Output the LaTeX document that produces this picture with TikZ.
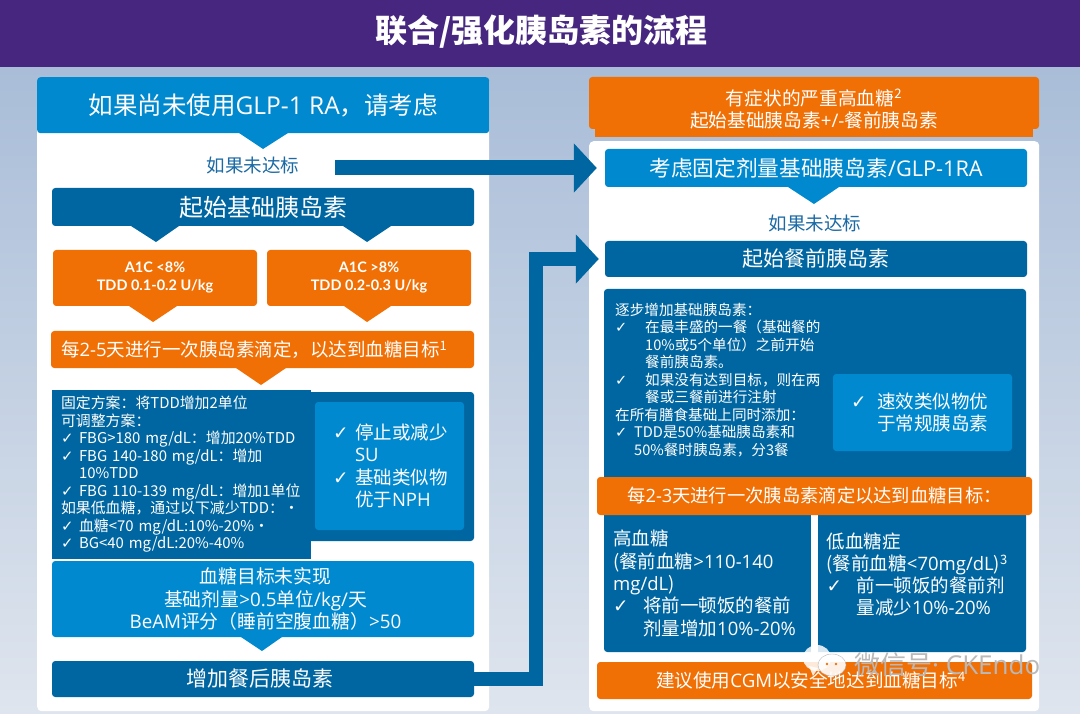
\documentclass[tikz,border=0pt]{standalone}
\usepackage{fontspec}
\setmainfont{Noto Sans CJK SC}
\newfontfamily\checkfont{DejaVu Sans}
\newfontfamily\labfont{Lato}
\newfontfamily\latinfont{Open Sans}
\usetikzlibrary{arrows.meta}
\definecolor{my_purple}{HTML}{46267F}
\definecolor{my_dark}{HTML}{0066A1}
\definecolor{my_light}{HTML}{0089CF}
\definecolor{my_orange}{HTML}{F07006}
\definecolor{my_text}{HTML}{1B6AA5}
\definecolor{my_sky}{HTML}{A9BDD8}
\definecolor{my_mist}{HTML}{DFE5EE}
\newcommand{\chk}[1]{\makebox[#1][l]{\checkfont ✓}}
\newcommand{\fsz}[2]{\fontsize{#1}{#2}\selectfont}
\newcommand{\oa}[1]{{\latinfont #1}}
\newcommand{\lowered}[2]{\raisebox{-#1}{#2}}

\begin{document}
\begin{tikzpicture}[x=1pt,y=-1pt,
  panel/.style={rectangle,fill=white,rounded corners=.8ex,inner sep=0pt},
  darkbox/.style={rectangle,fill=my_dark,rounded corners=.6ex,text=white,inner sep=0pt,align=center},
  lightbox/.style={rectangle,fill=my_light,rounded corners=.6ex,text=white,inner sep=0pt,align=center},
  orangebox/.style={rectangle,fill=my_orange,rounded corners=.6ex,text=white,inner sep=0pt,align=center},
  listtext/.style={text=white,inner sep=0pt,align=left,anchor=west},
  misstext/.style={text=my_text,inner sep=0pt,font=\fsz{18.5}{22}},
  bigarrow/.style={draw=my_dark,line width=15pt,-{Triangle[length=23pt,width=48pt]}}
  ]
\useasboundingbox (0,0) rectangle (1080,714);

% background and header
\shade[top color=my_sky,bottom color=my_mist] (0,66) rectangle (1080,714);
\node[rectangle,fill=my_purple,minimum width=1080pt,minimum height=67pt,inner sep=0pt,anchor=north west] (header) at (0,0) {};
\node[text=white,inner sep=0pt,font=\fsz{32}{36}\bfseries] (title) at (541.5,32) {联合/强化胰岛素的流程};

% left column
\node[panel,minimum width=452pt,minimum height=634pt,anchor=north west] (left-panel) at (37,77) {};
\node[lightbox,minimum width=452pt,minimum height=56pt,anchor=north west,font=\fsz{24.5}{28}] (left-head) at (37,77) {\lowered{1.5pt}{如果尚未使用\oa{GLP-1 RA}，请考虑}};
\fill[my_light] (239,133) -- (288,133) -- (263,149) -- cycle;
\node[misstext] (left-miss) at (253,165) {如果未达标};

\node[darkbox,minimum width=422pt,minimum height=38pt,font=\fsz{24}{28}] (basal) at (263,207) {起始基础胰岛素};
\fill[my_dark] (131,226) -- (179,226) -- (156,242) -- cycle;
\fill[my_dark] (343,226) -- (391,226) -- (367,242) -- cycle;

\node[orangebox,minimum width=204pt,minimum height=56pt,font=\labfont\bfseries\fsz{14.5}{18}] (a1c-low) at (155,278) {\lowered{3pt}{A1C <8\%}\\\lowered{3pt}{TDD 0.1-0.2 U/kg}};
\node[orangebox,minimum width=204pt,minimum height=56pt,font=\labfont\bfseries\fsz{14.5}{18}] (a1c-high) at (369,278) {\lowered{3pt}{A1C >8\%}\\\lowered{3pt}{TDD 0.2-0.3 U/kg}};
\fill[my_orange] (129,306) -- (177,306) -- (153,322) -- cycle;
\fill[my_orange] (344,306) -- (391,306) -- (367,322) -- cycle;

\node[orangebox,minimum width=423pt,minimum height=37pt,inner xsep=10pt,text width=403pt,align=left,font=\fsz{18.5}{22}] (titrate-left) at (262.5,349.5) {每\oa{2-5}天进行一次胰岛素滴定，以达到血糖目标\textsuperscript{1}};
\fill[my_orange] (236,368) -- (286,368) -- (261,385) -- cycle;

\node[darkbox,minimum width=422pt,minimum height=149pt] (fix-back) at (263,466.5) {};
\node[rectangle,fill=my_dark,minimum width=259pt,minimum height=169pt,text=white,inner sep=0pt,align=left,text width=241pt,font=\fsz{14.9}{17.5}] (fix-plan) at (181.5,474.5) {固定方案：将TDD增加2单位\\
可调整方案：\\
\chk{18pt}FBG>180 mg/dL：增加20\%TDD\\
\chk{18pt}FBG 140-180 mg/dL：增加\\
\hspace*{18pt}10\%TDD\\
\chk{18pt}FBG 110-139 mg/dL：增加1单位\\
如果低血糖，通过以下减少TDD：·\\
\chk{18pt}血糖<70 mg/dL:10\%-20\%·\\
\chk{18pt}BG<40 mg/dL:20\%-40\%};
\node[lightbox,minimum width=149pt,minimum height=128pt,inner xsep=18pt,text width=113pt,align=left,font=\fsz{18.5}{22.5}] (su-box) at (389.5,466) {\chk{22pt}停止或减少\\
\hspace*{22pt}\oa{SU}\\
\chk{22pt}基础类似物\\
\hspace*{22pt}优于\oa{NPH}};

\node[lightbox,minimum width=422pt,minimum height=76pt] (not-met) at (263,599) {};
\node[text=white,inner sep=0pt,align=center,font=\fsz{18.8}{22.5}] (not-met-text) at (265.5,599) {血糖目标未实现\\基础剂量\oa{>0.5}单位\oa{/kg/}天\\\oa{BeAM}评分（睡前空腹血糖）\oa{>50}};
\fill[my_light] (241,637) -- (282,637) -- (262,651) -- cycle;
\node[darkbox,minimum width=422pt,minimum height=36pt] (post-meal) at (263,679) {};
\node[text=white,inner sep=0pt,font=\fsz{21}{25}] (post-meal-text) at (260,678) {增加餐后胰岛素};

% right column
\fill[my_orange] (595,120) rectangle (1033,137);
\node[orangebox,minimum width=450pt,minimum height=52pt] (severe) at (814,103) {};
\node[text=white,inner sep=0pt,align=center,font=\fsz{18.7}{22}] (severe-text) at (814,109) {有症状的严重高血糖\textsuperscript{2}\\起始基础胰岛素\oa{+/-}餐前胰岛素};
\node[panel,minimum width=450pt,minimum height=570pt,anchor=north west] (right-panel) at (589,141) {};

\node[lightbox,minimum width=422pt,minimum height=38pt,font=\fsz{21.7}{26}] (fixed-dose) at (816,168) {考虑固定剂量基础胰岛素\oa{/GLP-1RA}};
\fill[my_light] (788,187) -- (839,187) -- (814,204) -- cycle;
\node[misstext] (right-miss) at (815,223) {如果未达标};
\node[darkbox,minimum width=422pt,minimum height=36pt,font=\fsz{21}{25}] (pre-meal) at (816,259) {\lowered{1.5pt}{起始餐前胰岛素}};

\node[darkbox,minimum width=422pt,minimum height=363pt] (right-back) at (815,470.5) {};
\node[listtext,font=\fsz{14.6}{17.5}] (step-up) at (615,380) {逐步增加基础胰岛素：\\
\chk{30pt}在最丰盛的一餐（基础餐的\\
\hspace*{30pt}10\%或5个单位）之前开始\\
\hspace*{30pt}餐前胰岛素。\\
\chk{30pt}如果没有达到目标，则在两\\
\hspace*{30pt}餐或三餐前进行注射\\
在所有膳食基础上同时添加：\\
\chk{19pt}TDD是50\%基础胰岛素和\\
\hspace*{19pt}50\%餐时胰岛素，分3餐};
\node[lightbox,minimum width=179pt,minimum height=77pt,inner xsep=18pt,text width=143pt,align=left,font=\fsz{18.5}{22.5}] (rapid) at (922.5,412.5) {\chk{26pt}速效类似物优\\
\hspace*{26pt}于常规胰岛素};

\fill[white] (811,510) rectangle (818,665);
\node[orangebox,minimum width=435pt,minimum height=38pt,font=\fsz{18.3}{23}] (titrate-right) at (814.5,496) {每\oa{2-3}天进行一次胰岛素滴定以达到血糖目标：};
\node[listtext,font=\fsz{18.5}{22.3}] (hyper) at (613,583.5) {高血糖\\
(餐前血糖\oa{>110-140}\\
\oa{mg/dL})\\
\chk{30pt}将前一顿饭的餐前\\
\hspace*{30pt}剂量增加\oa{10\%-20\%}};
\node[listtext,font=\fsz{18.5}{22.3}] (hypo) at (826.5,574.5) {低血糖症\\
(餐前血糖\oa{<70mg/dL})\textsuperscript{3}\\
\chk{30pt}前一顿饭的餐前剂\\
\hspace*{30pt}量减少\oa{10\%-20\%}};
\node[orangebox,minimum width=435pt,minimum height=37pt,font=\fsz{18.6}{23}] (cgm) at (814.5,680.5) {建议使用\oa{CGM}以安全地达到血糖目标\textsuperscript{4}\hspace*{7pt}};

% arrows between the columns
\coordinate (miss-out) at (335,168);
\coordinate (bend) at (535.5,259);
\draw[bigarrow,shorten >=8pt] (miss-out) -- (fixed-dose.west);
\draw[bigarrow,shorten >=6pt,line width=14pt] (post-meal.east) -| (bend) -- (pre-meal.west);

% watermark
\fill[white,opacity=.85] (817,658) ellipse (14pt and 13pt);
\fill[white,opacity=.85] (809,666) -- (818,668) -- (813,676) -- cycle;
\draw[gray!60,fill=white,opacity=.9] (832,665) ellipse (14pt and 11pt);
\fill[my_orange] (827,664) circle (1.4pt);
\fill[my_orange] (836,664) circle (1.4pt);
\node[text=gray!55!white,inner sep=0pt,anchor=west,font=\fsz{26}{30}] (mark) at (854,665) {微信号\oa{· CKEndo}};
\end{tikzpicture}
\end{document}
